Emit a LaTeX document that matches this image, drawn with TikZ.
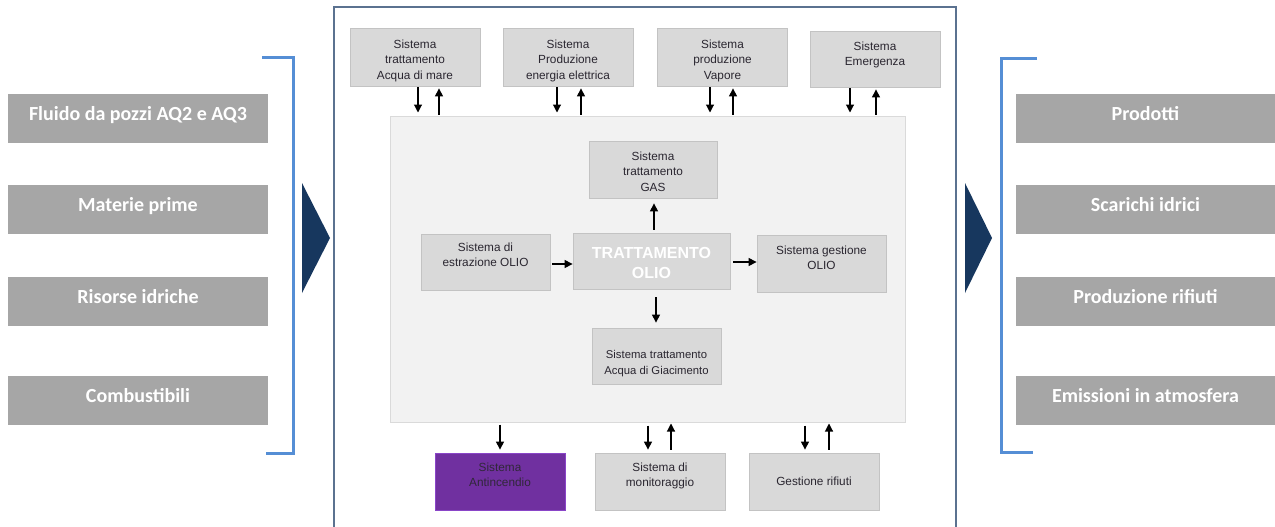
\documentclass[tikz,border=0pt]{standalone}
\usepackage{fontspec}
\setmainfont{Liberation Sans}
\newfontfamily\labelfont{Carlito}
\usetikzlibrary{arrows.meta}

\definecolor{boxgray}{HTML}{D9D9D9}
\definecolor{boxedge}{HTML}{C3C3C3}
\definecolor{panelfill}{HTML}{F2F2F2}
\definecolor{paneledge}{HTML}{DADADA}
\definecolor{sidegray}{HTML}{A6A6A6}
\definecolor{bracketblue}{HTML}{558ED5}
\definecolor{navy}{HTML}{17375E}
\definecolor{framecol}{HTML}{5B7290}
\definecolor{firepurple}{HTML}{7030A0}
\definecolor{fireedge}{HTML}{8A45C8}
\definecolor{inktext}{HTML}{2A2630}

\begin{document}
\begin{tikzpicture}[x=1pt,y=-1pt,
  sysbox/.style={draw=boxedge, fill=boxgray, line width=0.8pt,
    minimum width=130pt, minimum height=57pt, inner sep=0pt},
  systext/.style={anchor=north, inner sep=0pt, align=center, text=inktext,
    font=\fontsize{11.8}{15.5}\selectfont},
  sidebox/.style={fill=sidegray, draw=none, minimum width=260pt,
    minimum height=49pt, inner sep=0pt},
  sidetext/.style={anchor=base, inner sep=0pt, text=white,
    font=\labelfont\bfseries\fontsize{20}{24}\selectfont},
  arr/.style={-{Triangle[length=8pt,width=8pt]}, line width=1.1pt, black},
  bracket/.style={draw=bracketblue, line width=3pt},
]
\useasboundingbox (0,0) rectangle (1275,527);
\fill[white] (0,0) rectangle (1275,527);

% ---------- inputs (left) ----------
\node[sidebox] (in1) at (138,118.5) {};
\node[sidebox] (in2) at (138,209.5) {};
\node[sidebox] (in3) at (138,301.5) {};
\node[sidebox] (in4) at (138,400.5) {};
\node[sidetext] (in1t) at (138,120) {Fluido da pozzi AQ2 e AQ3};
\node[sidetext] (in2t) at (138,211) {Materie prime};
\node[sidetext] (in3t) at (138,303) {Risorse idriche};
\node[sidetext] (in4t) at (138,402) {Combustibili};

\draw[bracket] (262,58) -- (293,58) -- (293,453) -- (266,453);
\fill[navy] (302,183) -- (330,238) -- (302,293) -- cycle;

% ---------- outputs (right) ----------
\node[sidebox, minimum width=259pt] (out1) at (1145.5,118.5) {};
\node[sidebox, minimum width=259pt] (out2) at (1145.5,209.5) {};
\node[sidebox, minimum width=259pt] (out3) at (1145.5,301.5) {};
\node[sidebox, minimum width=259pt] (out4) at (1145.5,400.5) {};
\node[sidetext] (out1t) at (1145.5,120) {Prodotti};
\node[sidetext] (out2t) at (1145.5,211) {Scarichi idrici};
\node[sidetext] (out3t) at (1145.5,303) {Produzione rifiuti};
\node[sidetext] (out4t) at (1145.5,402) {Emissioni in atmosfera};

\draw[bracket] (1037,59) -- (1001,59) -- (1001,452) -- (1033,452);
\fill[navy] (965,183) -- (992,238) -- (965,293) -- cycle;

% ---------- plant frame ----------
\draw[framecol, line width=1.5pt] (334,560) -- (334,7) -- (956,7) -- (956,560);

% ---------- core process panel ----------
\node[draw=paneledge, fill=panelfill, line width=1pt, minimum width=515pt,
  minimum height=306pt, inner sep=0pt] (panel) at (647.5,269) {};

% ---------- utility systems (top) ----------
\node[sysbox, minimum height=58pt] (t1) at (415,57) {};
\node[sysbox, minimum height=58pt] (t2) at (568,57) {};
\node[sysbox, minimum height=58pt] (t3) at (722.5,57) {};
\node[sysbox, minimum height=56pt] (t4) at (875,59) {};
\node[systext] (t1t) at ([yshift=-12pt]t1.north) {Sistema\\trattamento\\Acqua di mare};
\node[systext] (t2t) at ([yshift=-12pt]t2.north) {Sistema\\Produzione\\energia elettrica};
\node[systext] (t3t) at ([yshift=-12pt]t3.north) {Sistema\\produzione\\Vapore};
\node[systext] (t4t) at ([yshift=-11pt]t4.north) {Sistema\\Emergenza};

% ---------- process units ----------
\node[sysbox, minimum width=128pt] (gas) at (653,169.5) {};
\node[sysbox, minimum width=129pt, minimum height=56pt] (estr) at (485.5,262) {};
\node[sysbox, minimum width=157pt, minimum height=56pt] (tratt) at (651.5,261) {};
\node[sysbox, minimum width=129pt] (gest) at (821.5,263.5) {};
\node[sysbox, minimum width=129pt, minimum height=56pt] (acqua) at (656.5,356) {};
\node[systext] (gast) at ([yshift=-11pt]gas.north) {Sistema\\trattamento\\GAS};
\node[systext] (estrt) at ([yshift=-9pt]estr.north) {Sistema di\\estrazione OLIO};
\node[systext, text=white, font=\bfseries\fontsize{16}{20}\selectfont,
  anchor=center] (trattt) at ([yshift=-2pt]tratt.center) {TRATTAMENTO\\OLIO};
\node[systext] (gestt) at ([yshift=-11pt]gest.north) {Sistema gestione\\OLIO};
\node[systext, font=\fontsize{11.3}{16}\selectfont] (acquat) at ([yshift=-23pt]acqua.north)
  {Sistema trattamento\\Acqua di Giacimento};

% ---------- services (bottom) ----------
\node[sysbox, fill=firepurple, draw=fireedge] (anti) at (500,481.5) {};
\node[sysbox] (moni) at (660,481.5) {};
\node[sysbox] (rif) at (814,481.5) {};
\node[systext, text=inktext!92!firepurple] (antit) at ([yshift=-10pt]anti.north) {Sistema\\Antincendio};
\node[systext] (monit) at ([yshift=-10pt]moni.north) {Sistema di\\monitoraggio};
\node[systext] (rift) at ([yshift=-24pt]rif.north) {Gestione rifiuti};

% ---------- exchanges with utilities ----------
\draw[arr] ([xshift=3pt,yshift=-1pt]t1.south) -- ([xshift=3pt,yshift=3pt]t1.south |- panel.north);
\draw[arr] ([xshift=24pt,yshift=1pt]t1.south |- panel.north) -- ([xshift=24pt,yshift=-2pt]t1.south);
\draw[arr] ([xshift=-11pt,yshift=-1pt]t2.south) -- ([xshift=-11pt,yshift=3pt]t2.south |- panel.north);
\draw[arr] ([xshift=13pt,yshift=1pt]t2.south |- panel.north) -- ([xshift=13pt,yshift=-2pt]t2.south);
\draw[arr] ([xshift=-12.5pt,yshift=-1pt]t3.south) -- ([xshift=-12.5pt,yshift=3pt]t3.south |- panel.north);
\draw[arr] ([xshift=10.5pt,yshift=1pt]t3.south |- panel.north) -- ([xshift=10.5pt,yshift=-2pt]t3.south);
\draw[arr] ([xshift=-25pt,yshift=-1pt]t4.south) -- ([xshift=-25pt,yshift=3pt]t4.south |- panel.north);
\draw[arr] ([xshift=1pt,yshift=1pt]t4.south |- panel.north) -- ([xshift=1pt,yshift=-2pt]t4.south);

% ---------- oil treatment flows ----------
\draw[arr] ([xshift=2.5pt,yshift=3pt]tratt.north) -- ([xshift=2.5pt,yshift=-5pt]tratt.north |- gas.south);
\draw[arr] ([xshift=2pt,yshift=-2pt]estr.east) -- ([yshift=-2pt]estr.east -| tratt.west);
\draw[arr] ([xshift=3pt,yshift=-1pt]tratt.east) -- ([yshift=-1pt]tratt.east -| gest.west);
\draw[arr] ([xshift=4.5pt,yshift=-8pt]tratt.south) -- ([xshift=4.5pt,yshift=5pt]tratt.south |- acqua.north);

% ---------- exchanges with services ----------
\draw[arr] ([yshift=-2pt]anti.north |- panel.south) -- ([yshift=3pt]anti.north);
\draw[arr] ([xshift=-12pt,yshift=-3pt]moni.north |- panel.south) -- ([xshift=-12pt,yshift=3pt]moni.north);
\draw[arr] ([xshift=11pt,yshift=3pt]moni.north) -- ([xshift=11pt,yshift=-1pt]moni.north |- panel.south);
\draw[arr] ([xshift=-9pt,yshift=-3pt]rif.north |- panel.south) -- ([xshift=-9pt,yshift=3pt]rif.north);
\draw[arr] ([xshift=15pt,yshift=3pt]rif.north) -- ([xshift=15pt,yshift=-1pt]rif.north |- panel.south);
\end{tikzpicture}
\end{document}
